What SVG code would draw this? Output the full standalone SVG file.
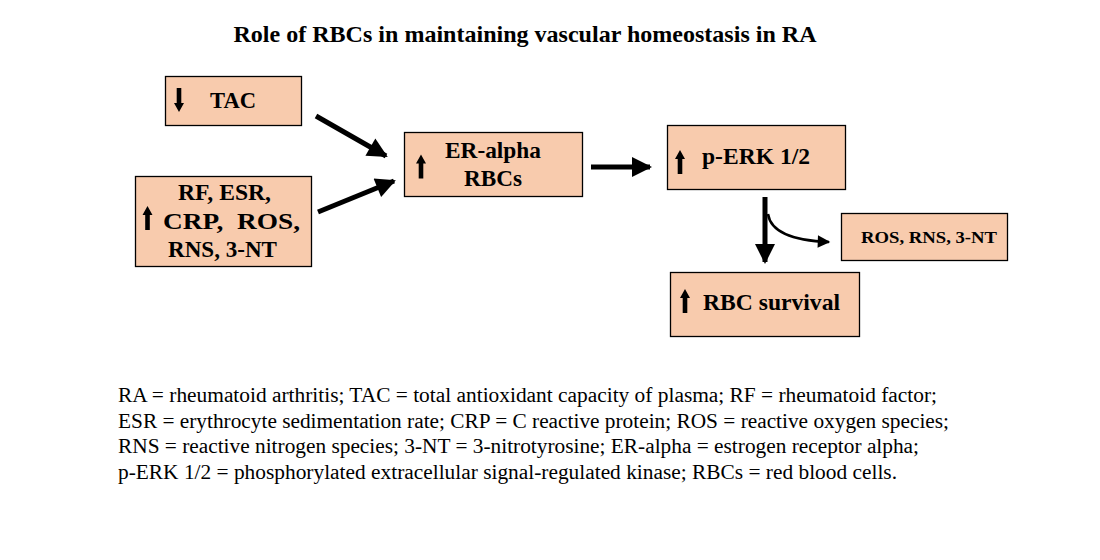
<svg xmlns="http://www.w3.org/2000/svg" width="1100" height="560" viewBox="0 0 1100 560">
<style>
.box{fill:#F8CBAD;stroke:#000;stroke-width:1.3}
.bt{font-family:"Liberation Serif","Times New Roman",serif;font-weight:bold;font-size:24px;fill:#000}
.leg{font-family:"Liberation Serif","Times New Roman",serif;font-size:20px;fill:#000}
.ttl{font-family:"Liberation Serif","Times New Roman",serif;font-weight:bold;font-size:23px;fill:#000}
.con{stroke:#000;stroke-width:5;fill:none}
.ar{fill:#000}
</style>
<defs>
<marker id="ah" viewBox="0 0 10 10" refX="9" refY="5" markerWidth="4.4" markerHeight="4" markerUnits="strokeWidth" orient="auto">
<path d="M0,0 L10,5 L0,10 z" fill="#000"/>
</marker>
<marker id="ahs" viewBox="0 0 10 10" refX="9" refY="5" markerWidth="5.5" markerHeight="5" markerUnits="strokeWidth" orient="auto">
<path d="M0,0 L10,5 L0,10 z" fill="#000"/>
</marker>
<path id="up" d="M-2.3,12 L-2.3,-3 L-5,-3 L0,-12 L5,-3 L2.3,-3 L2.3,12 z"/>
</defs>
<rect width="1100" height="560" fill="#fff"/>
<text class="ttl" x="525" y="42" text-anchor="middle" textLength="583" lengthAdjust="spacingAndGlyphs">Role of RBCs in maintaining vascular homeostasis in RA</text>

<g id="n-tac">
<rect class="box" x="165.5" y="76.5" width="136" height="49"/>
<use href="#up" class="ar" transform="translate(179,100) rotate(180)"/>
<text class="bt" x="210" y="108" textLength="46" lengthAdjust="spacingAndGlyphs">TAC</text>
</g>
<g id="n-rf">
<rect class="box" x="135.5" y="176.5" width="176" height="90"/>
<use href="#up" class="ar" transform="translate(147.5,218)"/>
<text class="bt" x="178" y="200" textLength="93" lengthAdjust="spacingAndGlyphs">RF, ESR,</text>
<text class="bt" x="163" y="229" xml:space="preserve" textLength="137" lengthAdjust="spacingAndGlyphs">CRP,  ROS,</text>
<text class="bt" x="168" y="257" textLength="109" lengthAdjust="spacingAndGlyphs">RNS, 3-NT</text>
</g>
<g id="n-er">
<rect class="box" x="404.5" y="132.5" width="178" height="64"/>
<use href="#up" class="ar" transform="translate(421,166.5)"/>
<text class="bt" x="445" y="158" textLength="96" lengthAdjust="spacingAndGlyphs">ER-alpha</text>
<text class="bt" x="464" y="186" textLength="58" lengthAdjust="spacingAndGlyphs">RBCs</text>
</g>
<g id="n-perk">
<rect class="box" x="667.5" y="125.5" width="178" height="64"/>
<use href="#up" class="ar" transform="translate(680,162)"/>
<text class="bt" x="702" y="164" textLength="108" lengthAdjust="spacingAndGlyphs">p-ERK 1/2</text>
</g>
<g id="n-ros">
<rect class="box" x="841.5" y="213.5" width="166" height="47"/>
<text class="bt" x="861" y="243" style="font-size:17px" textLength="136" lengthAdjust="spacingAndGlyphs">ROS, RNS, 3-NT</text>
</g>
<g id="n-rbc">
<rect class="box" x="670.5" y="272.5" width="189" height="64"/>
<use href="#up" class="ar" transform="translate(685,301)"/>
<text class="bt" x="703" y="310" textLength="137" lengthAdjust="spacingAndGlyphs">RBC survival</text>
</g>

<g id="connectors">
<line class="con" x1="316" y1="116" x2="386" y2="156" marker-end="url(#ah)"/>
<line class="con" x1="318" y1="212" x2="394" y2="181" marker-end="url(#ah)"/>
<line class="con" x1="591" y1="167" x2="650" y2="167" marker-end="url(#ah)"/>
<line class="con" x1="765" y1="197" x2="765" y2="262" marker-end="url(#ah)"/>
<path d="M768,214 Q772,240 829,242" stroke="#000" stroke-width="2.5" fill="none" marker-end="url(#ahs)"/>
</g>

<g id="legend">
<text class="leg" x="118" y="402" textLength="819" lengthAdjust="spacingAndGlyphs">RA = rheumatoid arthritis; TAC = total antioxidant capacity  of plasma; RF = rheumatoid factor;</text>
<text class="leg" x="118" y="428" textLength="831" lengthAdjust="spacingAndGlyphs">ESR = erythrocyte  sedimentation  rate; CRP = C reactive protein; ROS = reactive oxygen  species;</text>
<text class="leg" x="118" y="453" textLength="801" lengthAdjust="spacingAndGlyphs">RNS = reactive nitrogen species;  3-NT = 3-nitrotyrosine;  ER-alpha = estrogen receptor alpha;</text>
<text class="leg" x="118" y="479" textLength="779" lengthAdjust="spacingAndGlyphs">p-ERK  1/2 = phosphorylated  extracellular  signal-regulated  kinase;  RBCs = red blood cells.</text>
</g>
</svg>
